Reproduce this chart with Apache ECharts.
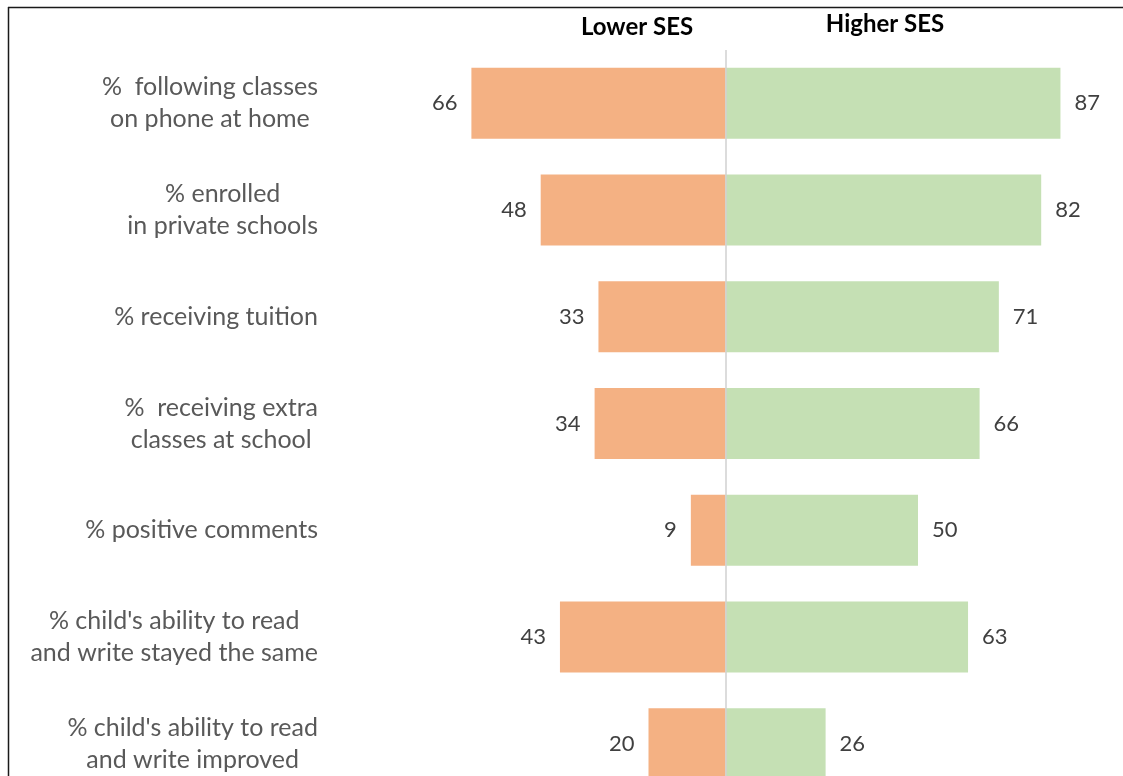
<!DOCTYPE html>
<html>
<head>
<meta charset="utf-8">
<style>
  html, body { margin: 0; padding: 0; background: #ffffff; }
  #chart { width: 1123px; height: 776px; }
</style>
<script src="https://cdn.jsdelivr.net/npm/echarts@6/dist/echarts.min.js"></script>
</head>
<body>
<div id="chart"></div>
<script>
// Survey indicators, top to bottom
const categories = [
  '%  following classes\non phone at home',
  '% enrolled\nin private schools',
  '% receiving tuition',
  '%  receiving extra\nclasses at school',
  '% positive comments',
  "% child's ability to read\nand write stayed the same",
  "% child's ability to read\nand write improved"
];
// Percentages per socio-economic group
const lowerSES = [66, 48, 33, 34, 9, 43, 20];
const higherSES = [87, 82, 71, 66, 50, 63, 26];
const groupNames = ['Lower SES', 'Higher SES'];

const FONT = 'Lato, "Open Sans", sans-serif';
const chart = echarts.init(document.getElementById('chart'));

chart.setOption({
  animation: false,
  backgroundColor: '#ffffff',
  // the last row runs past the bottom edge of the canvas
  grid: { left: 456, top: 50, right: 12.5, bottom: -21, containLabel: false, outerBoundsMode: 'none' },
  xAxis: {
    type: 'value', min: -70, max: 100, show: false
  },
  yAxis: {
    type: 'category',
    inverse: true,
    data: categories,
    axisLine: { show: false },
    axisTick: { show: false },
    splitLine: { show: false },
    axisLabel: {
      margin: 138,
      color: '#595959',
      fontFamily: FONT,
      fontSize: 25,
      lineHeight: 32,
      formatter: v => v.split('\n').map(l => '{c|' + l + '}').join('\n'),
      rich: { c: { align: 'center', color: '#595959', fontFamily: FONT, fontSize: 25, lineHeight: 32 } }
    }
  },
  series: [
    {
      name: groupNames[0],
      type: 'bar',
      stack: 'ses',
      barWidth: '66.5%',
      data: lowerSES.map(v => -v),
      itemStyle: { color: '#F4B183' },
      label: {
        show: true, position: 'left', distance: 14,
        color: '#404040', fontFamily: FONT, fontSize: 22,
        formatter: p => Math.abs(p.value)
      },
      markLine: {
        silent: true,
        symbol: 'none',
        label: { show: false },
        lineStyle: { color: '#d0d0d0', width: 1.5, type: 'solid' },
        data: [{ xAxis: 0 }]
      }
    },
    {
      name: groupNames[1],
      type: 'bar',
      stack: 'ses',
      barWidth: '66.5%',
      data: higherSES,
      itemStyle: { color: '#C5E0B4' },
      label: {
        show: true, position: 'right', distance: 14,
        color: '#404040', fontFamily: FONT, fontSize: 22
      }
    }
  ],
  graphic: [
    { type: 'text', x: 637, y: 27, style: { text: groupNames[0], align: 'center', verticalAlign: 'middle', fill: '#000000', font: 'bold 24px ' + FONT } },
    { type: 'text', x: 885, y: 24, style: { text: groupNames[1], align: 'center', verticalAlign: 'middle', fill: '#000000', font: 'bold 24px ' + FONT } },
    { type: 'line', shape: { x1: 8, y1: 7.5, x2: 1123, y2: 7.5 }, style: { stroke: '#1a1a1a', lineWidth: 1.5 } },
    { type: 'line', shape: { x1: 8.5, y1: 7, x2: 8.5, y2: 776 }, style: { stroke: '#1a1a1a', lineWidth: 1.5 } }
  ]
});
</script>
</body>
</html>
